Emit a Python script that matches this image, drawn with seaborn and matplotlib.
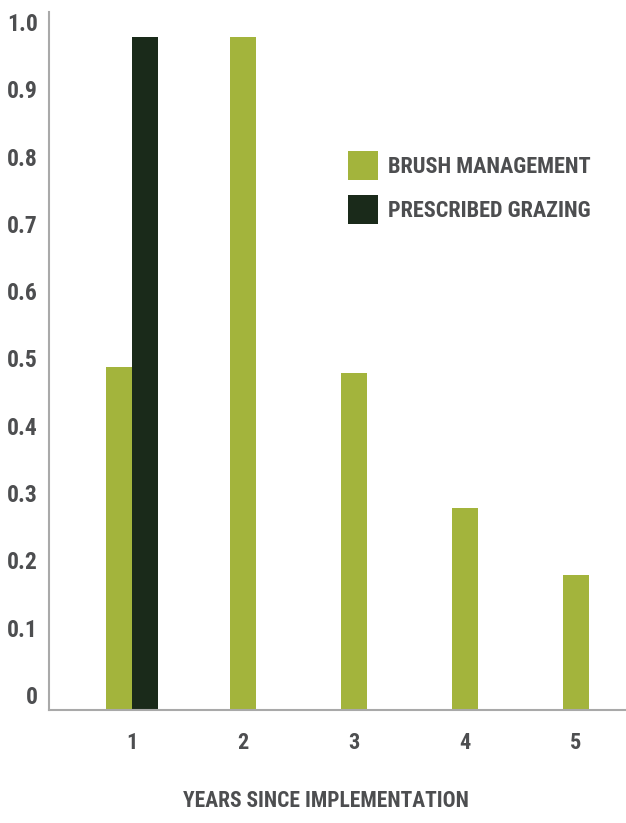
import matplotlib
matplotlib.use("Agg")
import matplotlib.pyplot as plt
import matplotlib.transforms as mtransforms
import pandas as pd
import seaborn as sns

years = [1, 2, 3, 4, 5]
brush_management = [0.51, 1.0, 0.5, 0.3, 0.2]
grazing_years = [1]
prescribed_grazing = [1.0]
series_names = ["BRUSH MANAGEMENT", "PRESCRIBED GRAZING"]
y_ticks = [0, 0.1, 0.2, 0.3, 0.4, 0.5, 0.6, 0.7, 0.8, 0.9, 1.0]
y_tick_labels = ["0", "0.1", "0.2", "0.3", "0.4", "0.5", "0.6", "0.7", "0.8", "0.9", "1.0"]
x_label = "YEARS SINCE IMPLEMENTATION"

colors = {"BRUSH MANAGEMENT": "#a3b43c", "PRESCRIBED GRAZING": "#1a2a1a"}
text_grey = "#4d4e50"
axis_grey = "#a9a9a9"
bar_w = 0.235

sns.set_style("white")
plt.rcParams["font.family"] = ["Roboto Condensed", "DejaVu Sans"]
plt.rcParams["font.stretch"] = "condensed"
plt.rcParams["font.weight"] = "bold"

df = pd.concat([
    pd.DataFrame({"year": years, "value": brush_management, "practice": series_names[0]}),
    pd.DataFrame({"year": grazing_years, "value": prescribed_grazing, "practice": series_names[1]}),
], ignore_index=True)

# bars sit side by side only in years that have both practices
shared = set(years) & set(grazing_years)
side = df.practice.map({series_names[0]: -0.5, series_names[1]: 0.5})
df["pos"] = df.year + df.year.isin(shared) * side * bar_w

fig = plt.figure(figsize=(6.26, 8.23), dpi=100)
ax = fig.add_axes([49 / 626, 113 / 823, 577 / 626, 698 / 823])

sns.barplot(data=df, x="pos", y="value", hue="practice", hue_order=series_names,
            palette=colors, native_scale=True, dodge=False, width=1.0,
            errorbar=None, saturation=1, linewidth=0, ax=ax)

ax.set_xlim(0.252, 5.45)
ax.set_ylim(0, 1.037)
ax.set_xticks(years)
ax.set_xticklabels([str(y) for y in years])
ax.set_yticks(y_ticks)
ax.set_yticklabels(y_tick_labels)
ax.set_ylabel("")

sns.despine(ax=ax)
for s in ["left", "bottom"]:
    ax.spines[s].set_color(axis_grey)
    ax.spines[s].set_linewidth(1.5)

ax.tick_params(axis="y", length=0, pad=8, labelsize=17, labelcolor=text_grey)
ax.tick_params(axis="x", length=8.5, width=1.5, color="#555555", pad=7,
               labelsize=16, labelcolor=text_grey)

# y labels sit a little above their grid value in the original
shift = mtransforms.ScaledTranslation(0, 0.15, fig.dpi_scale_trans)
for lbl in ax.get_yticklabels():
    lbl.set_transform(lbl.get_transform() + shift)

ax.set_xlabel(x_label, fontsize=15.5, color=text_grey, fontweight="bold", va="center")
ax.xaxis.set_label_coords(0.48, -0.130)

handles, labels = ax.get_legend_handles_labels()
ax.legend(handles, labels, loc="upper left", bbox_to_anchor=(348 / 626, 1 - 151 / 823),
          bbox_transform=fig.transFigure, frameon=False, borderpad=0, borderaxespad=0,
          handlelength=1.35, handleheight=1.63, handletextpad=0.45, labelspacing=0.68,
          prop={"size": 16, "weight": "bold"}, labelcolor=text_grey)

fig.savefig("out.png", dpi=100)
